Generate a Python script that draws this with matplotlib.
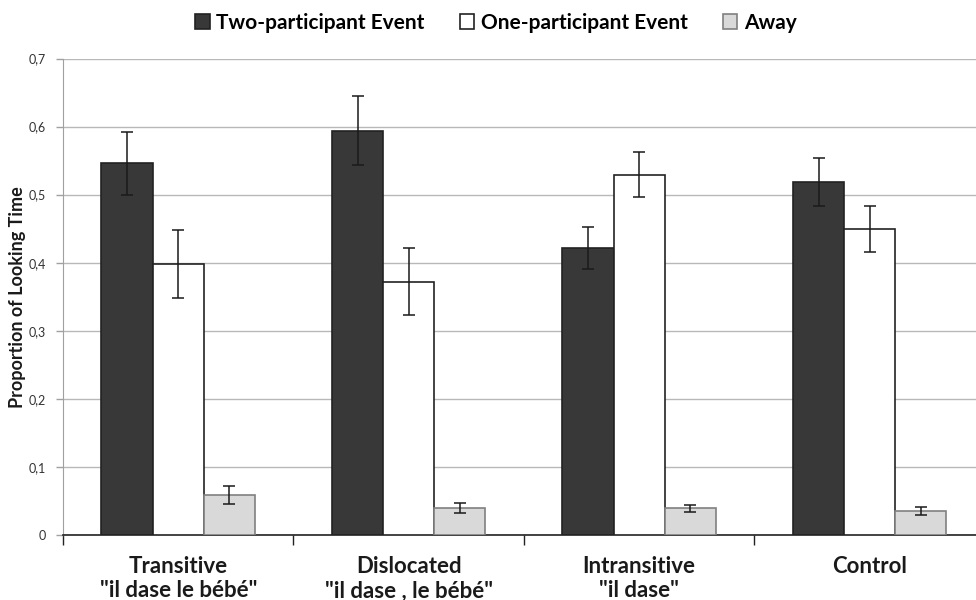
import matplotlib
matplotlib.use("Agg")
import matplotlib.pyplot as plt
import numpy as np

# looking-time proportions per condition
conditions = ['Transitive\n"il dase le bébé"', 'Dislocated\n"il dase , le bébé"',
              'Intransitive\n"il dase"', 'Control']
two_part = [0.546, 0.594, 0.422, 0.519]
two_part_err = [0.046, 0.051, 0.031, 0.035]
one_part = [0.398, 0.372, 0.529, 0.450]
one_part_err = [0.050, 0.049, 0.033, 0.034]
away = [0.059, 0.040, 0.039, 0.035]
away_err = [0.013, 0.007, 0.005, 0.006]
series_names = ["Two-participant Event", "One-participant Event", "Away"]
y_ticks = [0, 0.1, 0.2, 0.3, 0.4, 0.5, 0.6, 0.7]

plt.rcParams['font.family'] = ['Lato', 'DejaVu Sans']

fig = plt.figure(figsize=(9.76, 6.0), dpi=100)
ax = fig.add_axes([0.0645, 0.1083, 0.9447, 0.7942])

x = np.arange(len(conditions))
w = 0.222
styles = [
    dict(color="#383838", edgecolor="#222222"),
    dict(color="#ffffff", edgecolor="#222222"),
    dict(color="#d9d9d9", edgecolor="#808080"),
]
data = [(two_part, two_part_err), (one_part, one_part_err), (away, away_err)]
for i, ((vals, errs), st, name) in enumerate(zip(data, styles, series_names)):
    ax.bar(x + (i - 1) * w, vals, w, yerr=errs, label=name, linewidth=1.2,
           error_kw=dict(ecolor="#1a1a1a", elinewidth=1.1, capsize=4, capthick=1.1),
           zorder=3, **st)

ax.set_xlim(-0.5, 3.5)
ax.set_ylim(0, 0.7)
ax.set_yticks(y_ticks)
ax.set_yticklabels([("%.1f" % t).replace(".", ",") if t else "0" for t in y_ticks],
                   fontsize=9, color="#333333")
ax.yaxis.grid(True, color="#b8b8b8", linewidth=1.0, zorder=0)
ax.set_axisbelow(True)

# category boundary ticks below the axis, names centred between them
ax.set_xticks(np.arange(-0.5, 4.0, 1.0))
ax.set_xticklabels([])
ax.set_xticks(x, minor=True)
ax.set_xticklabels(conditions, minor=True, fontsize=16, fontweight="bold",
                   color="#1a1a1a", linespacing=1.2)
ax.tick_params(axis="x", which="major", length=7, width=1, color="#222222", direction="out")
ax.tick_params(axis="x", which="minor", length=0, pad=15)
ax.tick_params(axis="y", length=5, width=1, color="#a0a0a0", pad=7)

for s in ["top", "right"]:
    ax.spines[s].set_visible(False)
ax.spines["left"].set_color("#a0a0a0")
ax.spines["bottom"].set_color("#222222")
ax.spines["bottom"].set_linewidth(1.2)

ax.set_ylabel("Proportion of Looking Time", fontsize=13, fontweight="bold",
              color="#1a1a1a")
ax.yaxis.set_label_coords(-0.04, 0.5)

fig.legend(loc="upper center", bbox_to_anchor=(0.508, 1.01), ncol=3, frameon=False,
           prop=dict(size=15, weight="bold"), handlelength=0.7, handleheight=0.7,
           handletextpad=0.3, columnspacing=1.7)

fig.savefig("out.png", dpi=100)
